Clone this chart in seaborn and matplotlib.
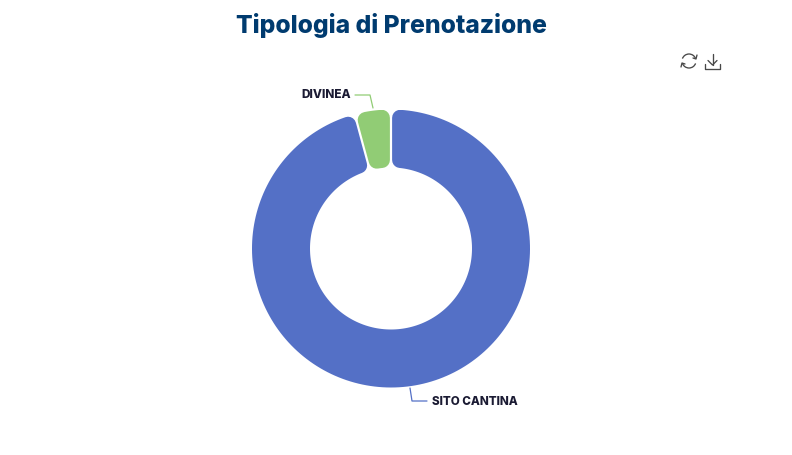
import numpy as np
import matplotlib
matplotlib.use("Agg")
import matplotlib.pyplot as plt
from matplotlib.patches import Polygon, Arc
import seaborn as sns

TITLE = "Tipologia di Prenotazione"
categories = ["SITO CANTINA", "DIVINEA"]
values = [95.8, 4.2]
colors = ["#5470C6", "#91CC75"]

sns.set_theme(style="white")
plt.rcParams['font.family'] = ['Inter', 'DejaVu Sans']

W, H = 792, 456
fig = plt.figure(figsize=(W / 100, H / 100), dpi=100, facecolor="white")

# pie axes: centre (391, 249.5), outer radius 139 px
cx, cy, R = 391, 249.5, 139
ax = fig.add_axes([(cx - R) / W, 1 - (cy + R) / H, 2 * R / W, 2 * R / H])
hole = 81 / 139
wedges, _ = ax.pie(values, colors=colors, startangle=90, counterclock=False,
                   radius=1, wedgeprops=dict(width=1 - hole))
ax.set_xlim(-1, 1)
ax.set_ylim(-1, 1)
ax.set_aspect("equal")
ax.axis("off")

# rounded sector look: inset polygon, stroked in its own colour with round joins
corner_px = 8.0
gap = 1.1 / R       # half of the white gap
rad = corner_px / R  # corner radius
inset = gap + rad
for w in wedges:
    t1, t2 = w.theta1, w.theta2
    ro, ri = 1 - rad, hole + rad
    dout = np.degrees(np.arcsin(inset / ro))
    din = np.degrees(np.arcsin(inset / ri))
    to = np.radians(np.linspace(t1 + dout, t2 - dout, 200))
    ti = np.radians(np.linspace(t2 - din, t1 + din, 200))
    pts = np.r_[np.c_[ro * np.cos(to), ro * np.sin(to)],
                np.c_[ri * np.cos(ti), ri * np.sin(ti)]]
    w.set_visible(False)
    ax.add_patch(Polygon(pts, closed=True, facecolor=w.get_facecolor(),
                         edgecolor=w.get_facecolor(),
                         linewidth=2 * corner_px * 0.72, joinstyle="round"))

# overlay in pixel coordinates for texts, leader lines and toolbox icons
ov = fig.add_axes([0, 0, 1, 1], facecolor="none")
ov.set_xlim(0, W)
ov.set_ylim(H, 0)
ov.axis("off")

ov.text(391, 25, TITLE, ha="center", va="center", fontsize=17.8,
        fontweight="heavy", color="#003B6F")

label_color = "#1B1B33"
ov.plot([355, 370, 373], [96, 96, 109], color=colors[1], lw=0.9)
ov.text(351, 94.5, categories[1], ha="right", va="center", fontsize=8.5,
        fontweight="heavy", color=label_color)
ov.plot([410, 412, 427], [389, 402, 402], color=colors[0], lw=0.9)
ov.text(432, 402, categories[0], ha="left", va="center", fontsize=8.4,
        fontweight="heavy", color=label_color)

# toolbox icons
ic = "#484848"
lw = 0.95
ov.add_patch(Arc((689, 62), 14, 14, theta1=200, theta2=340, color=ic, lw=lw))
ov.add_patch(Arc((689, 62), 14, 14, theta1=20, theta2=160, color=ic, lw=lw))
ov.plot([693, 696, 697], [59, 60, 56], color=ic, lw=lw)
ov.plot([685, 682, 681], [65, 64, 68], color=ic, lw=lw)
ov.plot([712.5, 712.5], [55, 66], color=ic, lw=lw)
ov.plot([708, 712.5, 717], [61.5, 66, 61.5], color=ic, lw=lw)
ov.plot([705, 705, 720, 720], [65, 70, 70, 65], color=ic, lw=lw)

fig.savefig("out.png", dpi=100, facecolor="white")
